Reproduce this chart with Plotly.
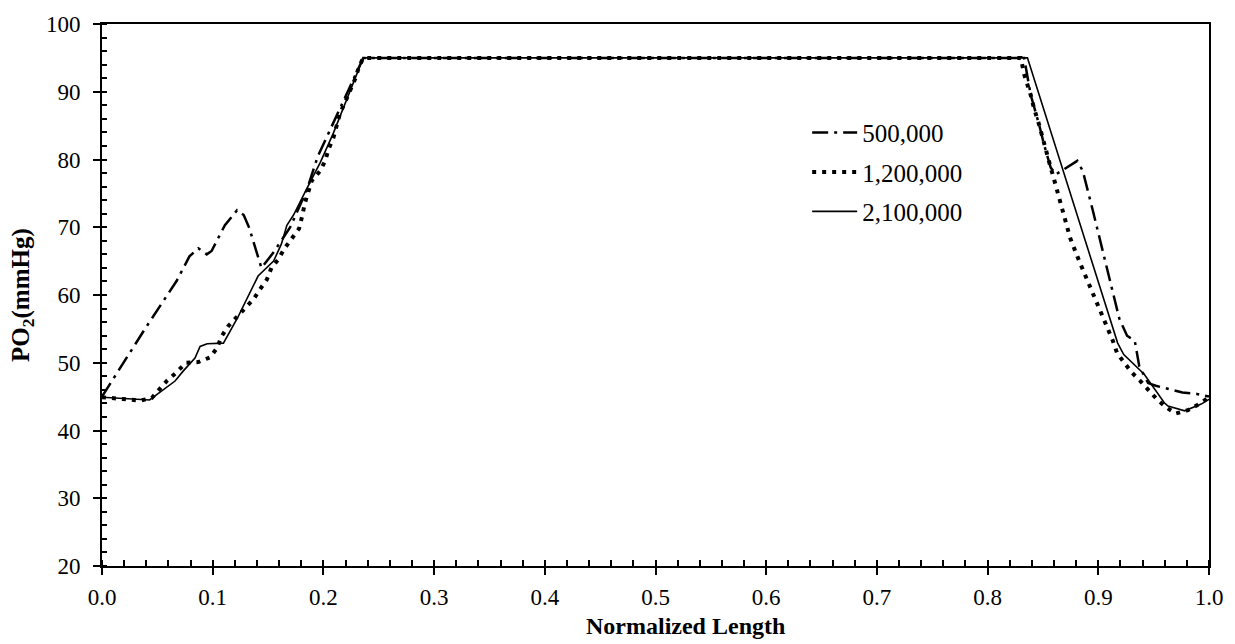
import plotly.graph_objects as go

# ---- data ----
x_500k = [0.0, 0.04, 0.0675, 0.079, 0.087, 0.0946, 0.099, 0.105, 0.111, 0.122, 0.128, 0.133,
          0.137, 0.144, 0.155, 0.17, 0.185, 0.195, 0.205, 0.215, 0.225, 0.236,
          0.833, 0.839, 0.8466, 0.851, 0.857, 0.8617, 0.881, 0.886, 0.895, 0.907, 0.919,
          0.926, 0.933, 0.937, 0.945, 0.952, 0.976, 0.989, 1.0]
y_500k = [45.0, 55.3, 62.1, 65.7, 66.9, 66.0, 66.5, 68.5, 70.3, 72.5, 71.8, 69.9,
          67.8, 64.0, 66.3, 70.0, 75.5, 80.5, 84.0, 87.5, 91.0, 95.0,
          95.0, 89.5, 85.1, 82.2, 78.8, 77.8, 79.8, 78.3, 72.5, 64.5, 56.5,
          54.0, 53.2, 49.5, 47.0, 46.6, 45.6, 45.4, 45.0]

x_1200k = [0.0, 0.012, 0.023, 0.034, 0.045, 0.052, 0.059, 0.0675, 0.0756, 0.087, 0.0976,
           0.104, 0.108, 0.114, 0.122, 0.129, 0.137, 0.143, 0.149, 0.153, 0.159, 0.165,
           0.172, 0.178, 0.1806, 0.1835, 0.1896, 0.197, 0.2016, 0.2046, 0.209, 0.212,
           0.215, 0.2197, 0.224, 0.2287, 0.232, 0.236,
           0.83, 0.833, 0.839, 0.842, 0.8466, 0.851, 0.857, 0.86, 0.863, 0.869, 0.8746,
           0.8828, 0.8918, 0.9008, 0.909, 0.913, 0.917, 0.923, 0.93, 0.938, 0.945,
           0.953, 0.9615, 0.97, 0.981, 0.991, 1.0]
y_1200k = [44.9, 44.8, 44.6, 44.4, 44.8, 46.1, 47.4, 48.6, 50.0, 50.1, 50.8,
           52.2, 53.9, 55.4, 56.8, 58.1, 59.4, 60.9, 62.3, 64.0, 65.2, 66.9,
           68.4, 69.8, 71.5, 73.7, 76.9, 78.3, 79.8, 81.5, 83.2, 84.9,
           86.8, 88.5, 90.2, 91.9, 93.6, 95.0,
           95.0, 92.6, 89.5, 87.5, 85.1, 82.2, 78.8, 77.1, 75.3, 71.8, 68.4,
           65.0, 61.6, 58.2, 55.1, 53.3, 51.4, 50.0, 48.6, 47.3, 46.0,
           44.6, 43.4, 42.5, 43.0, 43.9, 44.9]

x_2100k = [0.0, 0.043, 0.066, 0.0735, 0.084, 0.0886, 0.095, 0.1097, 0.123, 0.141,
           0.155, 0.162, 0.167, 0.173, 0.185, 0.197, 0.209, 0.221, 0.229, 0.236,
           0.836, 0.9175, 0.923, 0.9415, 0.9596, 0.963, 0.978, 0.993, 1.0]
y_2100k = [44.9, 44.5, 47.3, 48.8, 50.7, 52.4, 52.8, 52.9, 56.8, 62.8,
           65.0, 67.5, 70.3, 71.8, 75.7, 79.5, 83.9, 88.75, 92.1, 95.0,
           95.0, 52.9, 51.2, 48.3, 44.1, 43.6, 42.9, 43.9, 44.6]

series_names = ["500,000", "1,200,000", "2,100,000"]
x_ticks = [0.0, 0.1, 0.2, 0.3, 0.4, 0.5, 0.6, 0.7, 0.8, 0.9, 1.0]
y_ticks = [20, 30, 40, 50, 60, 70, 80, 90, 100]

FONT = "Liberation Serif, Times New Roman, serif"

fig = go.Figure()
fig.add_trace(go.Scatter(x=x_500k, y=y_500k, name=series_names[0], mode="lines",
                         legendgroup="a",
                         line=dict(color="black", width=2.5, dash="16px,6px,3px,6px")))
fig.add_trace(go.Scatter(x=x_1200k, y=y_1200k, name=series_names[1], mode="lines",
                         legendgroup="b",
                         line=dict(color="black", width=4, dash="4px,6px")))
fig.add_trace(go.Scatter(x=x_2100k, y=y_2100k, name=series_names[2], mode="lines",
                         legendgroup="c",
                         line=dict(color="black", width=1.6)))

axis_common = dict(showgrid=False, zeroline=False, showline=True, linecolor="black",
                   linewidth=2, mirror=True, ticks="outside", ticklen=7, tickwidth=2,
                   tickcolor="black", tickfont=dict(family=FONT, size=23, color="black"))

fig.update_layout(
    width=1235, height=644,
    margin=dict(l=102, r=26, t=16, b=78),
    paper_bgcolor="white", plot_bgcolor="white",
    font=dict(family=FONT, size=23, color="black"),
    xaxis=dict(range=[0, 1], tickvals=x_ticks, tickformat=".1f",
               minor=dict(dtick=0.02, ticks="inside", ticklen=6, tickwidth=1.5, tickcolor="black"),
               ticklabelstandoff=2, **axis_common),
    yaxis=dict(range=[20, 100], tickvals=y_ticks,
               minor=dict(dtick=2, ticks="inside", ticklen=5, tickwidth=1.5, tickcolor="black"),
               ticklabelstandoff=8, **axis_common),
    xaxis2=dict(overlaying="x", anchor="y", range=[0, 1], tickvals=x_ticks, ticks="inside",
                ticklen=7, tickwidth=2, tickcolor="black", showticklabels=False,
                showline=False, showgrid=False, zeroline=False),
    yaxis2=dict(overlaying="y", anchor="x", side="left", range=[20, 100], tickvals=y_ticks,
                ticks="inside", ticklen=5, tickwidth=2, tickcolor="black",
                showticklabels=False, showline=False, showgrid=False, zeroline=False),
    showlegend=True,
    legend=dict(x=0.637, y=0.842, xanchor="left", yanchor="top", bgcolor="rgba(0,0,0,0)",
                font=dict(family=FONT, size=25, color="black"), itemwidth=45,
                tracegroupgap=4),
    annotations=[
        dict(text="<b>Normalized Length</b>", xref="paper", yref="paper",
             x=0.5275, y=-0.1110, xanchor="center", yanchor="middle", showarrow=False,
             font=dict(family=FONT, size=24, color="black")),
        dict(text="<b>PO<sub>2</sub>(mmHg)</b>", xref="paper", yref="paper",
             x=-0.0723, y=0.5, xanchor="center", yanchor="middle", showarrow=False,
             textangle=-90, font=dict(family=FONT, size=25, color="black")),
    ],
)

fig.write_html("out.html")
